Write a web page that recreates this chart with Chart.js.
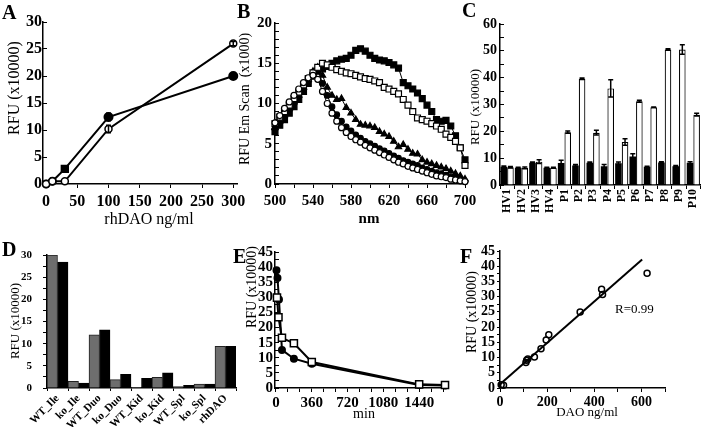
<!DOCTYPE html>
<html>
<head>
<meta charset="utf-8">
<title>DAO activity figure</title>
<script src="https://cdn.jsdelivr.net/npm/chart.js@4.4.1/dist/chart.umd.min.js"></script>
<style>
  body { margin: 0; background: #fff; }
  #figure { position: relative; width: 708px; height: 427px; overflow: hidden; background: #fff; }
  #figure canvas { position: absolute; }
  .panel-letter { position: absolute; font: bold 20px 'Liberation Serif', serif; line-height: 20px; color: #000; }
</style>
</head>
<body>
<div id="figure">
  <canvas id="chartA"></canvas>
  <canvas id="chartB"></canvas>
  <canvas id="chartC"></canvas>
  <canvas id="chartD"></canvas>
  <canvas id="chartE"></canvas>
  <canvas id="chartF"></canvas>
  <div class="panel-letter" style="left:2px;top:2px">A</div>
  <div class="panel-letter" style="left:237px;top:1px">B</div>
  <div class="panel-letter" style="left:462px;top:0px">C</div>
  <div class="panel-letter" style="left:2px;top:239px">D</div>
  <div class="panel-letter" style="left:233px;top:246px">E</div>
  <div class="panel-letter" style="left:460px;top:246px">F</div>
</div>
<script>
// --- Panel A: rhDAO dose response ---
const doseA = [0, 10, 30, 100, 300];
const filledA = [0, 0.5, 2.8, 12.4, 20.0];
const filledErrA = [0, 0, 0, 0.7, 0.6];
const openA = [0, 0.5, 0.5, 10.2, 26.0];
const openErrA = [0, 0, 0, 0.7, 0.4];
const xTicksA = [0, 50, 100, 150, 200, 250, 300];
const yTicksA = [0, 5, 10, 15, 20, 25, 30];

// --- Panel B: emission scans ---
const nmB = [500, 505, 510, 515, 520, 525, 530, 535, 540, 545, 550, 555, 560, 565, 570, 575, 580, 585, 590, 595,
  600, 605, 610, 615, 620, 625, 630, 635, 640, 645, 650, 655, 660, 665, 670, 675, 680, 685, 690, 695, 700];
const filledSqB = [6.5, 7.3, 8.0, 8.8, 9.6, 10.5, 11.5, 12.5, 13.4, 14.0, 14.3, 14.6, 15.0, 15.3, 15.5, 15.6, 16.0, 16.6, 16.8, 16.5,
  16.0, 15.6, 15.4, 15.3, 15.1, 14.8, 14.4, 12.6, 12.2, 11.8, 11.3, 10.6, 9.8, 9.0, 8.0, 7.8, 7.9, 7.2, 6.0, 4.5, 3.0];
const openSqB = [7.5, 8.3, 9.0, 9.8, 10.6, 11.4, 12.3, 13.1, 13.8, 14.5, 15.0, 14.8, 14.5, 14.2, 14.0, 13.8, 13.7, 13.5, 13.3, 13.1,
  13.0, 12.8, 12.6, 12.0, 11.8, 11.5, 11.2, 10.5, 9.8, 9.0, 8.2, 8.0, 7.8, 7.5, 7.2, 6.8, 6.2, 5.8, 5.3, 4.5, 2.3];
const triB = [7.0, 7.8, 8.6, 9.4, 10.2, 11.0, 12.0, 13.0, 14.0, 14.5, 13.5, 12.0, 11.0, 10.5, 10.6, 9.5, 8.8, 8.0, 7.4, 7.3,
  7.2, 7.0, 6.5, 6.2, 5.9, 5.3, 4.6, 4.9, 4.3, 3.8, 3.7, 3.0, 2.7, 2.5, 2.3, 2.1, 1.9, 1.6, 1.3, 1.0, 0.6];
const openCircB = [7.6, 8.5, 9.4, 10.2, 11.0, 11.8, 12.6, 13.2, 13.5, 13.0, 11.5, 10.0, 8.8, 7.8, 7.0, 6.4, 5.9, 5.5, 5.2, 4.8,
  4.5, 4.2, 3.9, 3.6, 3.3, 3.0, 2.7, 2.5, 2.2, 2.0, 1.8, 1.6, 1.4, 1.2, 1.0, 0.9, 0.8, 0.6, 0.5, 0.4, 0.3];
const filledCircB = [6.8, 7.6, 8.4, 9.2, 10.0, 10.9, 11.8, 12.8, 13.8, 14.2, 12.5, 11.0, 9.6, 8.6, 7.8, 7.1, 6.6, 6.1, 5.7, 5.3,
  5.0, 4.7, 4.4, 4.1, 3.8, 3.5, 3.2, 2.9, 2.7, 2.5, 2.3, 2.0, 1.8, 1.6, 1.4, 1.3, 1.1, 0.9, 0.7, 0.5, 0.3];
const xTicksB = [500, 520, 540, 560, 580, 600, 620, 640, 660, 680, 700];
const xLabelsB = [500, 540, 580, 620, 660, 700];
const yTicksB = [0, 1, 2, 3, 4, 5, 6, 7, 8, 9, 10, 11, 12, 13, 14, 15, 16, 17, 18, 19, 20];
const yLabelsB = [0, 5, 10, 15, 20];

// --- Panel C: volunteers and patients ---
const groupsC = ['HV1', 'HV2', 'HV3', 'HV4', 'P1', 'P2', 'P3', 'P4', 'P5', 'P6', 'P7', 'P8', 'P9', 'P10'];
const blackC = [6.8, 6.4, 8.3, 6.4, 8.2, 7.3, 8.3, 7.0, 8.1, 10.6, 6.8, 8.4, 7.0, 8.3];
const blackErrC = [0.3, 0.2, 0.3, 0.2, 1.0, 0.3, 0.3, 0.6, 0.5, 1.0, 0.2, 0.3, 0.3, 0.4];
const whiteC = [6.6, 6.4, 8.7, 6.4, 19.7, 39.6, 19.5, 36.0, 16.0, 31.2, 29.0, 50.5, 50.5, 26.2];
const whiteErrC = [0.3, 0.3, 0.7, 0.2, 0.4, 0.3, 0.9, 3.2, 1.2, 0.4, 0.1, 0.3, 1.8, 0.5];
const yTicksC = [0, 5, 10, 15, 20, 25, 30, 35, 40, 45, 50, 55, 60];
const yLabelsC = [0, 10, 20, 30, 40, 50, 60];

// --- Panel D: tissues ---
const tissuesD = ['WT_Ile', 'ko_Ile', 'WT_Duo', 'ko_Duo', 'WT_Kid', 'ko_Kid', 'WT_Spl', 'ko_Spl', 'rhDAO'];
const grayD = [30.0, 1.5, 12.0, 1.9, 0.15, 2.4, 0.3, 0.9, 9.4];
const blackD = [28.4, 1.1, 13.1, 3.1, 2.2, 3.4, 0.6, 0.9, 9.4];
const yTicksD = [0, 2.5, 5, 7.5, 10, 12.5, 15, 17.5, 20, 22.5, 25, 27.5, 30];
const yLabelsD = [0, 5, 10, 15, 20, 25, 30];

// --- Panel E: time course ---
const minFilledE = [5, 15, 30, 60, 180, 360, 1440, 1700];
const rfuFilledE = [39.0, 36.4, 29.3, 12.6, 9.7, 8.0, 1.0, 0.8];
const minOpenE = [10, 25, 60, 180, 360, 1440, 1700];
const rfuOpenE = [29.9, 23.4, 16.6, 14.8, 8.6, 1.2, 1.0];
const xTicksE = [0, 120, 240, 360, 480, 600, 720, 840, 960, 1080, 1200, 1320, 1440, 1560, 1680];
const xLabelsE = [0, 360, 720, 1080, 1440];
const yTicksE = [0, 2.5, 5, 7.5, 10, 12.5, 15, 17.5, 20, 22.5, 25, 27.5, 30, 32.5, 35, 37.5, 40, 42.5, 45];
const yLabelsE = [0, 5, 10, 15, 20, 25, 30, 35, 40, 45];

// --- Panel F: standard curve ---
const daoF = [5, 15, 110, 113, 118, 146, 174, 196, 207, 340, 431, 435, 624];
const rfuF = [1.1, 0.9, 8.4, 9.1, 9.5, 10.2, 12.9, 15.8, 17.5, 25.0, 32.4, 30.7, 37.7];
const fitXF = [0, 603];
const fitYF = [1.2, 42.2];
const fitLabelF = 'R=0.99';
const xTicksF = [0, 100, 200, 300, 400, 500, 600, 700];
const xLabelsF = [0, 200, 400, 600];
const yTicksF = yTicksE;
const yLabelsF = yLabelsE;

const SERIF = "'Liberation Serif', 'Times New Roman', serif";
Chart.defaults.font.family = SERIF;
Chart.defaults.color = '#000';

// place a canvas on the page and work out padding so the plot area lands where it should
function setup(id, box, plot) {
  const canvas = document.getElementById(id);
  canvas.width = box.w;
  canvas.height = box.h;
  canvas.style.left = box.x + 'px';
  canvas.style.top = box.y + 'px';
  return {
    canvas, box,
    padding: { left: 0, top: plot.t - box.y, right: box.x + box.w - plot.r, bottom: 0 },
    yWidth: plot.l - box.x,
    xHeight: box.y + box.h - plot.b
  };
}

function axis(frame, o) {
  const horizontal = o.position === 'bottom';
  let callback;
  if (o.cats) callback = (v, i) => o.cats[i];
  else if (o.labels) callback = v => o.labels.includes(v) ? String(v) : '';
  return {
    type: o.type || 'linear',
    position: o.position,
    min: o.min,
    max: o.max,
    afterFit: s => { if (horizontal) s.height = frame.xHeight; else s.width = frame.yWidth; },
    afterBuildTicks: o.ticks ? s => { s.ticks = o.ticks.map(v => ({ value: v })); } : undefined,
    ticks: {
      autoSkip: false,
      padding: o.pad,
      minRotation: o.rot || 0,
      maxRotation: o.rot || 0,
      font: { size: o.size, weight: 'bold' },
      callback: callback
    },
    grid: { drawOnChartArea: false, drawTicks: true, tickLength: o.tick, color: '#000', lineWidth: 1 },
    border: { display: true, color: '#000', width: 1.5 }
  };
}

function baseOptions(frame, scales) {
  return {
    responsive: false,
    animation: false,
    devicePixelRatio: 1,
    layout: { padding: frame.padding },
    scales,
    plugins: { legend: { display: false }, tooltip: { enabled: false } }
  };
}

// axis titles, given in page coordinates
function axisTitles(frame, items) {
  return {
    id: 'axisTitles',
    afterDraw(chart) {
      const ctx = chart.ctx;
      items.forEach(t => {
        ctx.save();
        ctx.font = (t.bold ? 'bold ' : '') + t.size + 'px ' + SERIF;
        ctx.fillStyle = '#000';
        ctx.textAlign = 'center';
        ctx.textBaseline = 'middle';
        ctx.translate(t.x - frame.box.x, t.y - frame.box.y);
        if (t.rotate) ctx.rotate(-Math.PI / 2);
        ctx.fillText(t.text, 0, 0);
        ctx.restore();
      });
    }
  };
}

// vertical error bars from dataset.errors
const errorBars = {
  id: 'errorBars',
  afterDatasetsDraw(chart) {
    const ctx = chart.ctx;
    chart.data.datasets.forEach((ds, i) => {
      if (!ds.errors) return;
      const meta = chart.getDatasetMeta(i);
      const yScale = chart.scales[meta.yAxisID];
      ctx.save();
      ctx.strokeStyle = '#000';
      ctx.lineWidth = 1.5;
      meta.data.forEach((el, j) => {
        const e = ds.errors[j];
        if (!e) return;
        const raw = ds.data[j];
        const v = typeof raw === 'object' ? raw.y : raw;
        const top = yScale.getPixelForValue(v + e);
        const bot = yScale.getPixelForValue(v - e);
        ctx.beginPath();
        ctx.moveTo(el.x, top); ctx.lineTo(el.x, bot);
        ctx.moveTo(el.x - 2.5, top); ctx.lineTo(el.x + 2.5, top);
        ctx.moveTo(el.x - 2.5, bot); ctx.lineTo(el.x + 2.5, bot);
        ctx.stroke();
      });
      ctx.restore();
    });
  }
};

function pts(xs, ys) {
  return xs.map((x, i) => ({ x: x, y: ys[i] }));
}

// note: Chart.js paints the first dataset last, so the top layer is listed first

// ---------- A ----------
const fA = setup('chartA', { x: 0, y: 0, w: 258, h: 230 }, { l: 43, t: 22, r: 237, b: 184 });
new Chart(fA.canvas, {
  type: 'scatter',
  data: {
    datasets: [
      { data: pts(doseA, openA), errors: openErrA, showLine: true, clip: false,
        borderColor: '#000', borderWidth: 2, pointRadius: 3.5,
        pointBackgroundColor: '#fff', pointBorderColor: '#000', pointBorderWidth: 1.5 },
      { data: pts(doseA, filledA), errors: filledErrA, showLine: true, clip: false,
        borderColor: '#000', borderWidth: 2,
        pointStyle: ['circle', 'circle', 'rect', 'circle', 'circle'], pointRadius: [3.5, 3.5, 4.5, 4, 4],
        pointBackgroundColor: '#000', pointBorderColor: '#000' }
    ]
  },
  options: baseOptions(fA, {
    x: axis(fA, { position: 'bottom', min: -5, max: 306, ticks: xTicksA, labels: xTicksA, size: 16, pad: 4, tick: 4 }),
    y: axis(fA, { position: 'left', min: 0, max: 30, ticks: yTicksA, labels: yTicksA, size: 16, pad: 5, tick: -4 })
  }),
  plugins: [errorBars, axisTitles(fA, [
    { text: 'RFU (x10000)', x: 15, y: 88, size: 16, rotate: true },
    { text: 'rhDAO ng/ml', x: 149, y: 220, size: 16 }
  ])]
});

// ---------- B ----------
const fB = setup('chartB', { x: 234, y: 0, w: 250, h: 230 }, { l: 275, t: 23, r: 465, b: 184 });
function scanSet(values, style, radius, fill) {
  return { data: pts(nmB, values), showLine: true, clip: false, borderColor: '#000', borderWidth: 1,
    pointStyle: style, pointRadius: radius, pointBackgroundColor: fill, pointBorderColor: '#000', pointBorderWidth: 1.2 };
}
new Chart(fB.canvas, {
  type: 'scatter',
  data: {
    datasets: [
      scanSet(openCircB, 'circle', 3, '#fff'),
      scanSet(openSqB, 'rect', 4.2, '#fff'),
      scanSet(filledCircB, 'circle', 2.8, '#000'),
      scanSet(triB, 'triangle', 3.6, '#000'),
      scanSet(filledSqB, 'rect', 4.2, '#000')
    ]
  },
  options: baseOptions(fB, {
    x: axis(fB, { position: 'bottom', min: 500, max: 700, ticks: xTicksB, labels: xLabelsB, size: 15, pad: 4, tick: 4 }),
    y: axis(fB, { position: 'left', min: 0, max: 20, ticks: yTicksB, labels: yLabelsB, size: 15, pad: 7, tick: -4 })
  }),
  plugins: [axisTitles(fB, [
    { text: 'RFU Em Scan  (x1000)', x: 245, y: 99, size: 14, rotate: true },
    { text: 'nm', x: 369, y: 219, size: 15, bold: true }
  ])]
});

// ---------- C ----------
const fC = setup('chartC', { x: 462, y: 0, w: 246, h: 225 }, { l: 500, t: 24, r: 701, b: 185 });
new Chart(fC.canvas, {
  type: 'bar',
  data: {
    labels: groupsC,
    datasets: [
      { data: blackC, errors: blackErrC, backgroundColor: '#000', borderColor: '#000', borderWidth: 0,
        barPercentage: 1, categoryPercentage: 0.92 },
      { data: whiteC, errors: whiteErrC, backgroundColor: '#fff', borderColor: '#000', borderWidth: 1.2,
        barPercentage: 1, categoryPercentage: 0.92 }
    ]
  },
  options: baseOptions(fC, {
    x: axis(fC, { type: 'category', position: 'bottom', cats: groupsC, size: 12, pad: 0, tick: 4, rot: 90 }),
    y: axis(fC, { position: 'left', min: 0, max: 60, ticks: yTicksC, labels: yLabelsC, size: 14, pad: 7, tick: -4 })
  }),
  plugins: [errorBars, axisTitles(fC, [
    { text: 'RFU (x10000)', x: 476, y: 107, size: 13, rotate: true }
  ])]
});

// ---------- D ----------
const fD = setup('chartD', { x: 0, y: 232, w: 250, h: 195 }, { l: 47, t: 255, r: 236, b: 388 });
new Chart(fD.canvas, {
  type: 'bar',
  data: {
    labels: tissuesD,
    datasets: [
      { data: grayD, backgroundColor: '#6e6e6e', borderColor: '#222', borderWidth: 1,
        barPercentage: 1, categoryPercentage: 1 },
      { data: blackD, backgroundColor: '#000', borderColor: '#000', borderWidth: 1,
        barPercentage: 1, categoryPercentage: 1 }
    ]
  },
  options: baseOptions(fD, {
    x: axis(fD, { type: 'category', position: 'bottom', cats: tissuesD, size: 11, pad: 1, tick: 3, rot: 45 }),
    y: axis(fD, { position: 'left', min: 0, max: 30, ticks: yTicksD, labels: yLabelsD, size: 11, pad: 11, tick: 4 })
  }),
  plugins: [axisTitles(fD, [
    { text: 'RFU (x10000)', x: 16, y: 321, size: 13, rotate: true }
  ])]
});

// ---------- E ----------
const fE = setup('chartE', { x: 236, y: 232, w: 228, h: 195 }, { l: 275, t: 252, r: 447, b: 388 });
new Chart(fE.canvas, {
  type: 'scatter',
  data: {
    datasets: [
      { data: pts(minOpenE, rfuOpenE), showLine: true, clip: false, borderColor: '#000', borderWidth: 2,
        pointStyle: 'rect', pointRadius: 5, pointBackgroundColor: '#fff', pointBorderColor: '#000', pointBorderWidth: 1.5 },
      { data: pts(minFilledE, rfuFilledE), showLine: true, clip: false, borderColor: '#000', borderWidth: 2,
        pointRadius: 3, pointBackgroundColor: '#000', pointBorderColor: '#000' }
    ]
  },
  options: baseOptions(fE, {
    x: axis(fE, { position: 'bottom', min: -10, max: 1720, ticks: xTicksE, labels: xLabelsE, size: 15, pad: 2, tick: 4 }),
    y: axis(fE, { position: 'left', min: 0, max: 45, ticks: yTicksE, labels: yLabelsE, size: 15, pad: 6, tick: -4 })
  }),
  plugins: [axisTitles(fE, [
    { text: 'RFU (x10000)', x: 252, y: 287, size: 14, rotate: true },
    { text: 'min', x: 364, y: 414, size: 14 }
  ])]
});

// ---------- F ----------
const fF = setup('chartF', { x: 462, y: 232, w: 246, h: 195 }, { l: 500, t: 251, r: 665, b: 388 });
const fitNote = {
  id: 'fitNote',
  afterDatasetsDraw(chart) {
    const { ctx, scales: { x, y } } = chart;
    ctx.save();
    ctx.font = '13px ' + SERIF;
    ctx.fillStyle = '#000';
    ctx.textAlign = 'center';
    ctx.textBaseline = 'middle';
    ctx.fillText(fitLabelF, x.getPixelForValue(570), y.getPixelForValue(25.6));
    ctx.restore();
  }
};
new Chart(fF.canvas, {
  type: 'scatter',
  data: {
    datasets: [
      { data: pts(daoF, rfuF), clip: false, pointRadius: 3, pointBackgroundColor: 'rgba(255,255,255,0)',
        pointBorderColor: '#000', pointBorderWidth: 1.5 },
      { data: pts(fitXF, fitYF), showLine: true, clip: false, borderColor: '#000', borderWidth: 2, pointRadius: 0 }
    ]
  },
  options: baseOptions(fF, {
    x: axis(fF, { position: 'bottom', min: 0, max: 700, ticks: xTicksF, labels: xLabelsF, size: 14, pad: 2, tick: 4 }),
    y: axis(fF, { position: 'left', min: 0, max: 45, ticks: yTicksF, labels: yLabelsF, size: 14, pad: 2, tick: 3 })
  }),
  plugins: [fitNote, axisTitles(fF, [
    { text: 'RFU (x10000)', x: 472, y: 312, size: 14, rotate: true },
    { text: 'DAO ng/ml', x: 587, y: 413, size: 13 }
  ])]
});
</script>
</body>
</html>
